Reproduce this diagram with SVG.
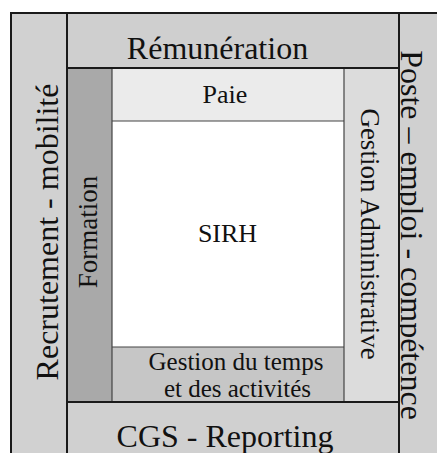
<svg xmlns="http://www.w3.org/2000/svg" width="437" height="453" viewBox="0 0 437 453">
<style>
.t{font-family:"Liberation Serif","Times New Roman",serif;fill:#111;text-anchor:middle}
.b{stroke:#1a1a1a;stroke-width:2}
.th{stroke:#444;stroke-width:1.2}
</style>
<defs>
<clipPath id="cpPoste"><rect x="400" y="14" width="40" height="440"/></clipPath>
</defs>
<rect x="0" y="0" width="437" height="453" fill="#ffffff"/>
<g id="recrutement">
<rect x="11" y="13" width="56" height="442" fill="#d1d1d1"/>
<text class="t" font-size="32" transform="translate(58,232) rotate(-90)">Recrutement - mobilité</text>
</g>
<g id="remuneration">
<rect x="67" y="13" width="332" height="55" fill="#cfcfcf"/>
<text class="t" font-size="32" x="217.5" y="59">Rémunération</text>
</g>
<g id="poste">
<rect x="399" y="13" width="40" height="442" fill="#d0d0d0"/>
<g clip-path="url(#cpPoste)">
<text class="t" font-size="32" transform="translate(401,235) rotate(90)">Poste – emploi - compétence</text>
</g>
</g>
<g id="formation">
<rect x="67" y="68" width="45" height="334" fill="#a9a9a9"/>
<text class="t" font-size="27" transform="translate(97,232) rotate(-90)">Formation</text>
</g>
<g id="paie">
<rect x="112" y="68" width="232" height="53" fill="#ebebeb"/>
<text class="t" font-size="26" x="225" y="103">Paie</text>
</g>
<g id="sirh">
<rect x="112" y="121" width="232" height="226" fill="#ffffff"/>
<text class="t" font-size="26" x="227.5" y="242">SIRH</text>
</g>
<g id="gestion-temps">
<rect x="112" y="347" width="232" height="55" fill="#c6c6c6"/>
<text class="t" font-size="25" x="236" y="370">Gestion du temps</text>
<text class="t" font-size="25" x="237.5" y="397">et des activités</text>
</g>
<g id="gestion-admin">
<rect x="344" y="68" width="55" height="334" fill="#dcdcdc"/>
<text class="t" font-size="27" transform="translate(361,234) rotate(90)">Gestion Administrative</text>
</g>
<g id="cgs">
<rect x="67" y="402" width="332" height="53" fill="#d0d0d0"/>
<text class="t" font-size="32" x="225" y="447">CGS - Reporting</text>
</g>
<g id="lines" fill="none">
<line class="th" x1="112" y1="121" x2="344" y2="121"/>
<line class="th" x1="112" y1="347" x2="344" y2="347"/>
<line class="th" x1="112" y1="68" x2="112" y2="402"/>
<line class="th" x1="344" y1="68" x2="344" y2="402"/>
<line class="b" x1="10" y1="13" x2="437" y2="13"/>
<line class="b" x1="11" y1="12" x2="11" y2="453"/>
<line class="b" x1="67" y1="13" x2="67" y2="453"/>
<line class="b" x1="399" y1="13" x2="399" y2="453"/>
<line class="b" x1="67" y1="68" x2="399" y2="68"/>
<line class="b" x1="67" y1="402" x2="399" y2="402"/>
</g>
</svg>
